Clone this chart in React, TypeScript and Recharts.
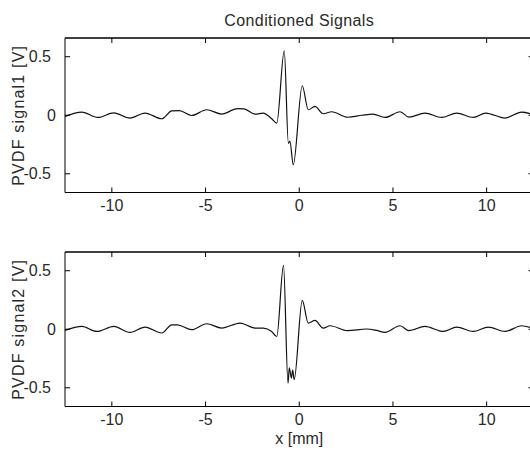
import { LineChart, Line, XAxis, YAxis, Label, ReferenceLine } from 'recharts';

// x positions [mm] and voltages
const signal1X = [-12.5, -11.6, -10.75, -9.9, -9.03, -8.23, -7.34, -6.8, -6.4, -5.74, -4.94, -4.14, -3.3, -2.95, -2.36, -1.92, -1.47, -1.2, -0.8, -0.58, -0.5, -0.32, 0.16, 0.48, 0.84, 1.28, 1.73, 2.58, 3.35, 3.93, 4.58, 5.38, 5.85, 6.71, 7.6, 8.4, 9.29, 9.95, 10.98, 11.87, 12.5];
const signal1V = [-0.01, 0.027, -0.019, 0.02, -0.024, 0.019, -0.03, 0.038, 0.04, -0.002, 0.047, 0.01, 0.056, 0.055, 0.01, 0.019, -0.03, -0.067, 0.551, -0.24, -0.22, -0.423, 0.252, 0.047, 0.075, 0.013, 0.03, -0.017, 0.0, 0.01, -0.019, 0.03, -0.016, 0.019, -0.019, 0.019, -0.019, 0.019, -0.024, 0.027, 0.005];

const signal2X = [-12.5, -11.6, -10.8, -9.9, -9.03, -8.23, -7.34, -6.8, -6.5, -5.74, -4.94, -4.14, -3.16, -2.36, -1.92, -1.47, -1.2, -0.84, -0.6, -0.53, -0.42, -0.35, -0.27, 0.16, 0.48, 0.84, 1.28, 1.64, 2.58, 3.6, 4.13, 4.58, 5.38, 5.85, 6.71, 7.69, 8.4, 9.29, 10.09, 10.98, 11.87, 12.5];
const signal2V = [-0.01, 0.024, -0.019, 0.024, -0.027, 0.019, -0.032, 0.038, 0.038, -0.004, 0.047, 0.01, 0.053, 0.01, 0.01, -0.019, -0.062, 0.545, -0.46, -0.33, -0.417, -0.35, -0.43, 0.246, 0.053, 0.075, 0.01, 0.03, -0.012, 0.002, -0.01, -0.027, 0.03, -0.012, 0.024, -0.019, 0.019, -0.019, 0.019, -0.019, 0.03, 0.005];

const xTicks = [-10, -5, 0, 5, 10];
const yTicks = [-0.5, 0, 0.5];
const Y_MAX = 0.66;

const TEXT = '#2a2a2a';
const FONT = '"Liberation Sans", Arial, sans-serif';

// matlab puts the lone "0" a little further right than the other labels
const YTick = (props: any) => {
  const { x, y, payload } = props;
  const shift = payload.value === 0 ? 3 : -2;
  return (
    <text x={x + shift} y={y} dy="0.355em" textAnchor="end" fontSize={16} fill={TEXT} fontFamily={FONT}>
      {payload.value}
    </text>
  );
};

const NoLabel = () => <g />;

function SignalPanel({ xs, vs, ylabel, xlabel, height }: {
  xs: number[]; vs: number[]; ylabel: string; xlabel?: string; height: number;
}) {
  const data = xs.map((x, i) => ({ x, v: vs[i] }));
  return (
    <LineChart width={540} height={height} data={data} margin={{ top: 37, right: 5.5, bottom: 0, left: 0 }}>
      <XAxis
        xAxisId="b" dataKey="x" type="number" domain={[-12.5, 12.5]} ticks={xTicks}
        allowDataOverflow height={height - 192.5}
        tickSize={-5} tickMargin={12} stroke="#000"
        tick={{ fontSize: 16, fill: TEXT, fontFamily: FONT }}
      >
        {xlabel && <Label value={xlabel} position="insideBottom" offset={10} fontSize={16} fill={TEXT} fontFamily={FONT} />}
      </XAxis>
      <XAxis
        xAxisId="t" orientation="top" dataKey="x" type="number" domain={[-12.5, 12.5]} ticks={xTicks}
        allowDataOverflow height={1} tickSize={-5} tick={<NoLabel />} stroke="#000"
      />
      <YAxis
        yAxisId="l" type="number" domain={[-Y_MAX, Y_MAX]} ticks={yTicks} allowDataOverflow
        width={65} tickSize={-5} tickMargin={17} stroke="#000" tick={<YTick />}
        label={{ value: ylabel, angle: -90, position: 'insideLeft', offset: 18, fontSize: 16, fill: TEXT, fontFamily: FONT, letterSpacing: 1.2, style: { textAnchor: 'middle' } }}
      />
      <YAxis
        yAxisId="r" orientation="right" type="number" domain={[-Y_MAX, Y_MAX]} ticks={yTicks}
        allowDataOverflow width={1} tickSize={-5} tick={<NoLabel />} stroke="#000"
      />
      {/* top edge of the box */}
      <ReferenceLine xAxisId="b" yAxisId="l" y={Y_MAX} stroke="#000" />
      {/* invisible copy so the top/right box axes get drawn */}
      <Line
        xAxisId="t" yAxisId="r" dataKey="v" type="monotone" stroke="none"
        dot={false} activeDot={false} isAnimationActive={false}
      />
      <Line
        xAxisId="b" yAxisId="l" dataKey="v" type="monotone" stroke="#111" strokeWidth={1.2}
        dot={false} isAnimationActive={false}
      />
    </LineChart>
  );
}

export default function App() {
  return (
    <div style={{ position: 'absolute', left: 0, top: 0, width: 530, height: 450, overflow: 'hidden', background: '#fff', fontFamily: FONT }}>
      <div style={{
        position: 'absolute', left: 0, top: 12.5, width: 598.5, textAlign: 'center',
        fontSize: 16, lineHeight: '16px', color: TEXT, letterSpacing: 0.4,
      }}>
        Conditioned Signals
      </div>
      <div style={{ position: 'absolute', left: 0, top: 0 }}>
        <SignalPanel xs={signal1X} vs={signal1V} ylabel="PVDF signal1 [V]" height={230} />
      </div>
      <div style={{ position: 'absolute', left: 0, top: 214 }}>
        <SignalPanel xs={signal2X} vs={signal2V} ylabel="PVDF signal2 [V]" xlabel="x [mm]" height={240} />
      </div>
    </div>
  );
}
